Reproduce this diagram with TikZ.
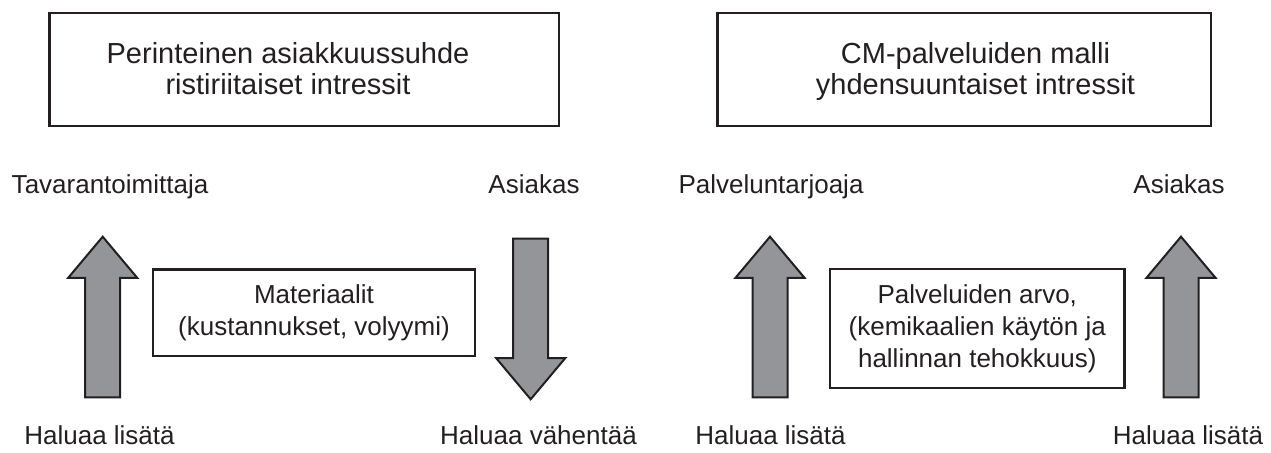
\documentclass[tikz,border=0pt]{standalone}
\usepackage{fontspec}
\setmainfont{Liberation Sans}
\usetikzlibrary{shapes.arrows}
\definecolor{ink}{HTML}{231F20}
\definecolor{arrowgray}{HTML}{939598}

\begin{document}
\begin{tikzpicture}[x=0.5pt,y=-0.5pt,
  panel/.style={draw=ink,line width=1.2pt},
  headtxt/.style={text=ink,align=center,anchor=base,inner sep=0pt,font=\fontsize{14.5}{15.85}\selectfont},
  flowbox/.style={draw=ink,line width=1.2pt,text=ink,align=center,inner sep=0pt,font=\fontsize{13}{15.85}\selectfont},
  party/.style={text=ink,anchor=base,inner sep=0pt,font=\fontsize{13}{15.6}\selectfont},
  blockarrow/.style={single arrow,draw=ink,fill=arrowgray,line width=1pt,inner sep=0pt,inner ysep=8.25pt,
    minimum height=80.3pt,single arrow head extend=8.5pt,single arrow tip angle=80,anchor=tail}
]
\useasboundingbox (0,0) rectangle (1271,453);

\draw[panel] (49.3,13.3) rectangle (559,126);
\draw[panel] (717.3,13.3) rectangle (1210.7,126);
\node[headtxt] (tradtxt) at (288,95) {Perinteinen asiakkuussuhde\\ristiriitaiset intressit};
\node[headtxt] (cmtxt) at (975.5,95) {CM-palveluiden malli\\yhdensuuntaiset intressit};

\node[party] (supplier) at (110,193.3) {Tavarantoimittaja};
\node[party] (client1) at (534,193.3) {Asiakas};
\node[party] (provider) at (771,193.3) {Palveluntarjoaja};
\node[party] (client2) at (1179,193.3) {Asiakas};

\node[blockarrow,rotate=90] (up1) at (102.7,398.3) {};
\node[blockarrow,rotate=-90] (down1) at (530.7,237.7) {};
\node[blockarrow,rotate=90] (up2) at (770,398.3) {};
\node[blockarrow,rotate=90] (up3) at (1181,398.3) {};

\node[flowbox,minimum width=160.85pt,minimum height=43.35pt] (material) at (314,312.7) {Materiaalit\\(kustannukset, volyymi)};
\node[flowbox,minimum width=147.35pt,minimum height=59.5pt] (value) at (977.3,328.8) {Palveluiden arvo,\\(kemikaalien käytön ja\\hallinnan tehokkuus)};

\node[party] (goal1) at (99.5,445) {Haluaa lisätä};
\node[party] (goal2) at (538.5,445) {Haluaa vähentää};
\node[party] (goal3) at (770.5,445) {Haluaa lisätä};
\node[party] (goal4) at (1188,445) {Haluaa lisätä};
\end{tikzpicture}
\end{document}
